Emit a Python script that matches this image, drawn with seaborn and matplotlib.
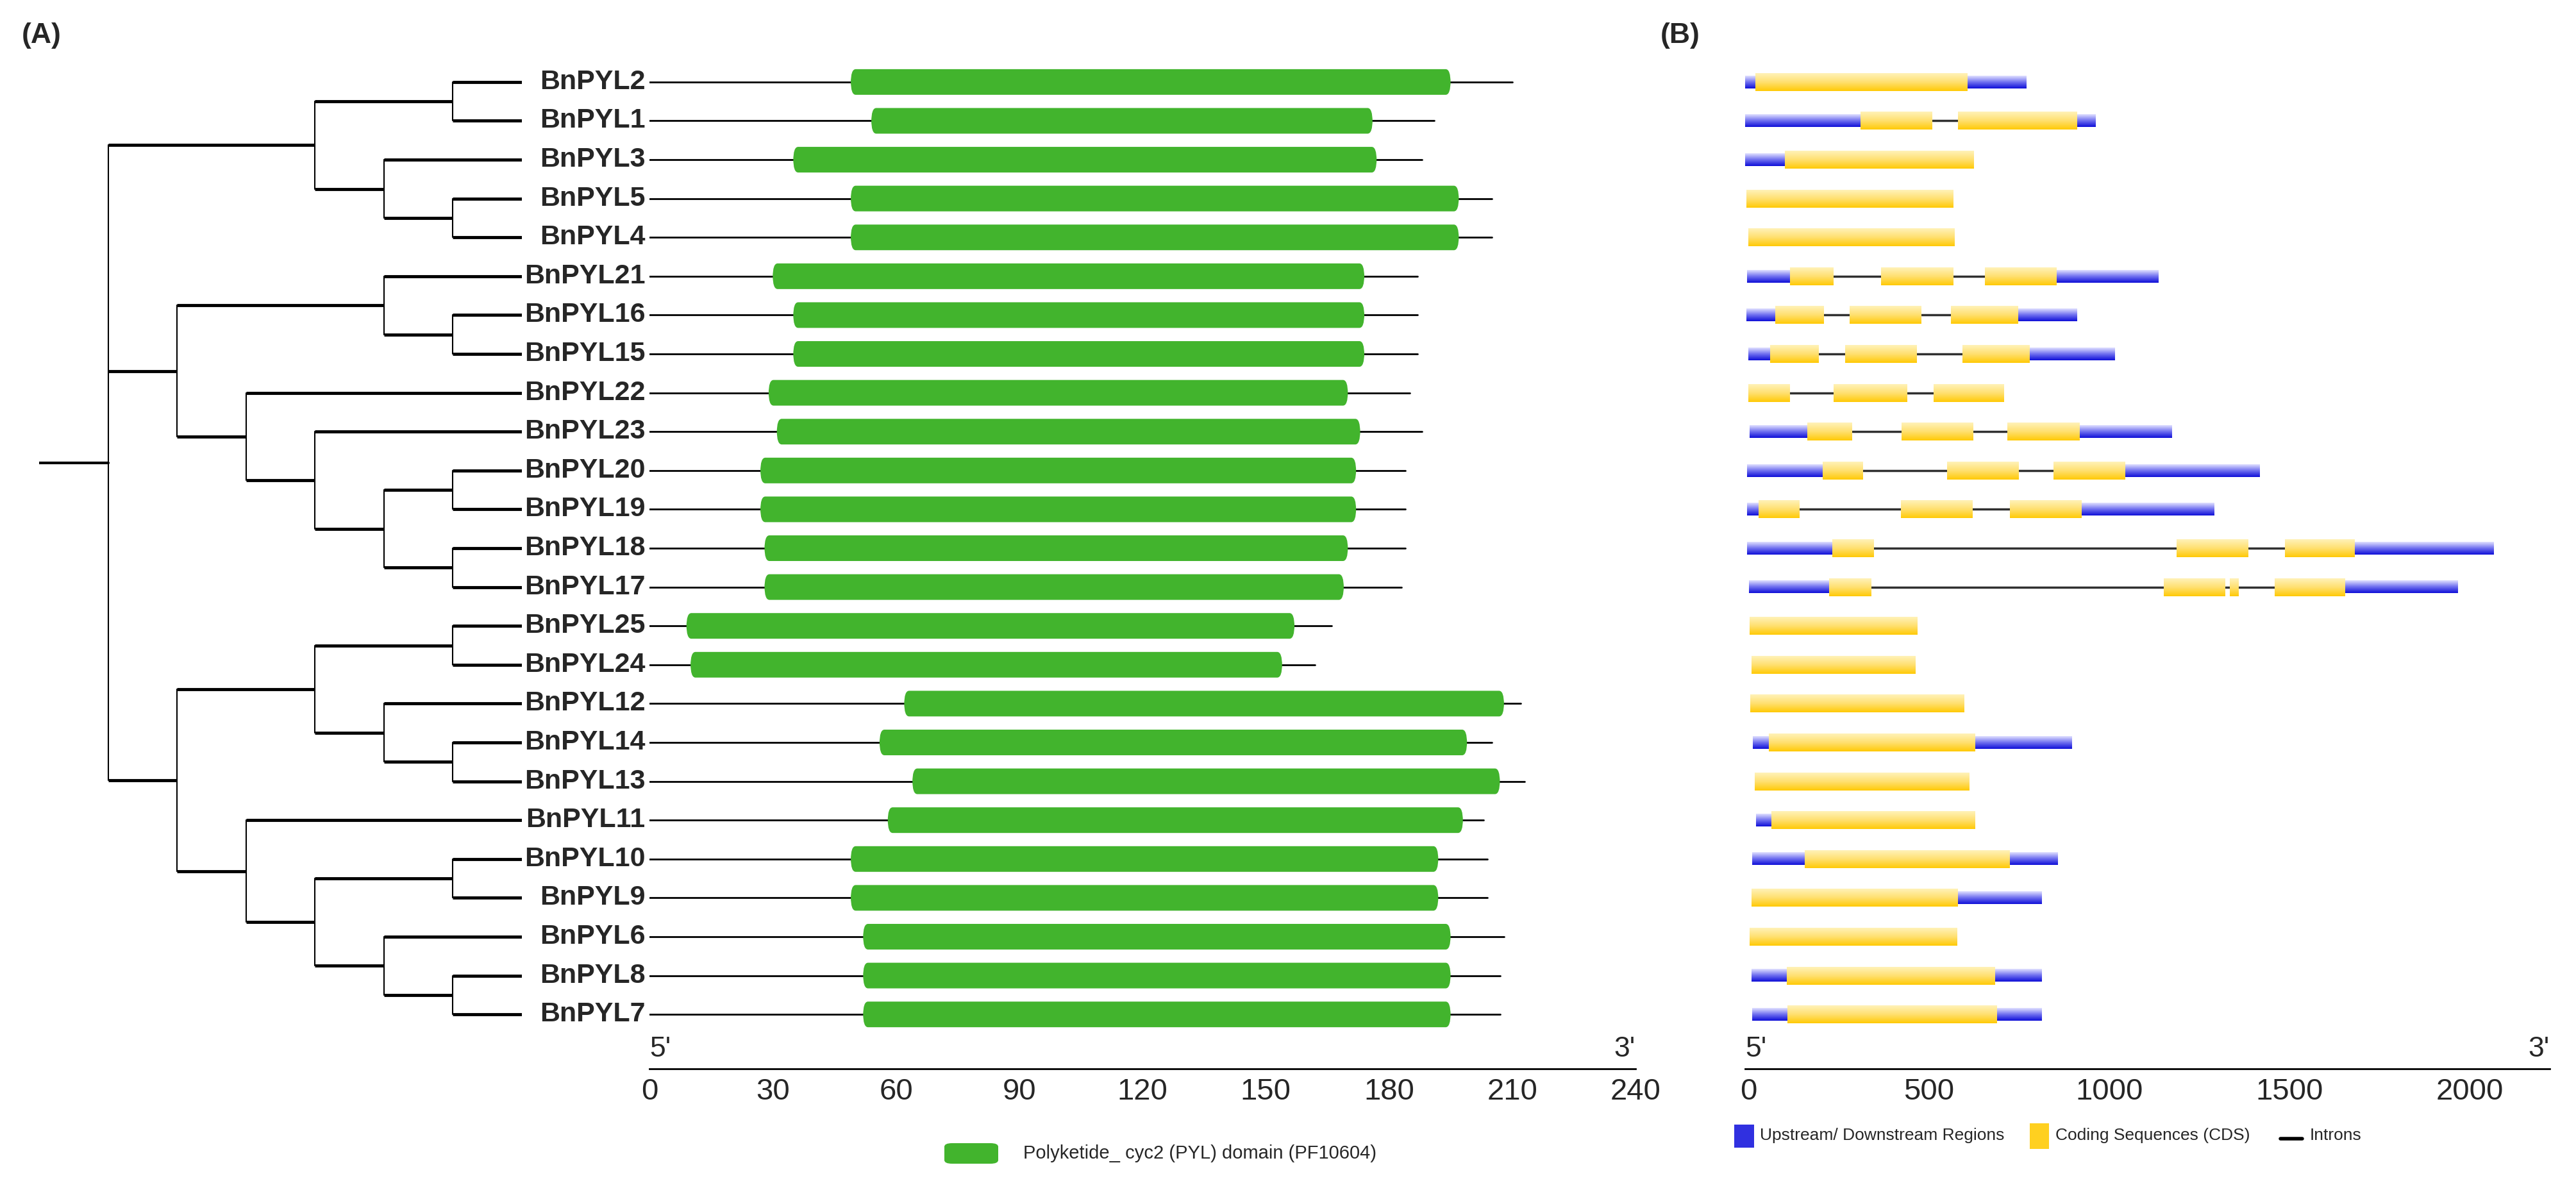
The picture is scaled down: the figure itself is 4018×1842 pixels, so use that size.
import numpy as np
import pandas as pd
import seaborn as sns
import matplotlib.pyplot as plt
from matplotlib.patches import Rectangle, FancyBboxPatch
from matplotlib.lines import Line2D

sns.set_theme(style='white')
plt.rcParams['font.family'] = ['Liberation Sans', 'DejaVu Sans']

# leaf order (top to bottom)
genes = ['BnPYL2', 'BnPYL1', 'BnPYL3', 'BnPYL5', 'BnPYL4', 'BnPYL21', 'BnPYL16', 'BnPYL15',
         'BnPYL22', 'BnPYL23', 'BnPYL20', 'BnPYL19', 'BnPYL18', 'BnPYL17', 'BnPYL25', 'BnPYL24',
         'BnPYL12', 'BnPYL14', 'BnPYL13', 'BnPYL11', 'BnPYL10', 'BnPYL9', 'BnPYL6', 'BnPYL8', 'BnPYL7']

# protein length (aa) and PYL domain position
prot_len = [210, 191, 188, 205, 205, 187, 187, 187, 185, 188, 184, 184, 184, 183, 166, 162,
            212, 205, 213, 203, 204, 204, 208, 207, 207]
dom_start = [49, 54, 35, 49, 49, 30, 35, 35, 29, 31, 27, 27, 28, 28, 9, 10,
             62, 56, 64, 58, 49, 49, 52, 52, 52]
dom_end = [195, 176, 177, 197, 197, 174, 174, 174, 170, 173, 172, 172, 170, 169, 157, 154,
           208, 199, 207, 198, 192, 192, 195, 195, 195]

# tree topology: (level, children); leaves are gene names at level 6
tree = (0, [
    (3, [(5, ['BnPYL2', 'BnPYL1']),
         (4, ['BnPYL3', (5, ['BnPYL5', 'BnPYL4'])])]),
    (1, [(4, ['BnPYL21', (5, ['BnPYL16', 'BnPYL15'])]),
         (2, ['BnPYL22',
              (3, ['BnPYL23',
                   (4, [(5, ['BnPYL20', 'BnPYL19']), (5, ['BnPYL18', 'BnPYL17'])])])])]),
    (1, [(3, [(5, ['BnPYL25', 'BnPYL24']),
              (4, ['BnPYL12', (5, ['BnPYL14', 'BnPYL13'])])]),
         (2, ['BnPYL11',
              (3, [(5, ['BnPYL10', 'BnPYL9']),
                   (4, ['BnPYL6', (5, ['BnPYL8', 'BnPYL7'])])])])]),
])

# gene structures (bp): upstream/downstream (UTR), CDS, introns fill the gaps
utr = {
    'BnPYL2': [(-24, 19), (606, 770)], 'BnPYL1': [(-17, 311), (911, 961)],
    'BnPYL3': [(-16, 102)], 'BnPYL5': [], 'BnPYL4': [],
    'BnPYL21': [(-3, 115), (854, 1135)], 'BnPYL16': [(-5, 74), (747, 912)],
    'BnPYL15': [(0, 60), (779, 1017)], 'BnPYL22': [],
    'BnPYL23': [(3, 163), (917, 1173)], 'BnPYL20': [(-3, 206), (1044, 1416)],
    'BnPYL19': [(-3, 28), (922, 1291)], 'BnPYL18': [(-3, 232), (1681, 2066)],
    'BnPYL17': [(2, 223), (1653, 1966)], 'BnPYL25': [], 'BnPYL24': [], 'BnPYL12': [],
    'BnPYL14': [(13, 57), (628, 898)], 'BnPYL13': [], 'BnPYL11': [(22, 63)],
    'BnPYL10': [(11, 157), (725, 857)], 'BnPYL9': [(579, 813)], 'BnPYL6': [],
    'BnPYL8': [(9, 107), (683, 813)], 'BnPYL7': [(11, 108), (688, 813)],
}
cds = {
    'BnPYL2': [(19, 606)], 'BnPYL1': [(311, 509), (581, 911)], 'BnPYL3': [(102, 626)],
    'BnPYL5': [(-5, 568)], 'BnPYL4': [(0, 571)],
    'BnPYL21': [(115, 235), (367, 567), (655, 854)],
    'BnPYL16': [(74, 209), (281, 479), (562, 747)],
    'BnPYL15': [(60, 195), (268, 466), (593, 779)],
    'BnPYL22': [(0, 115), (237, 440), (513, 707)],
    'BnPYL23': [(163, 287), (424, 623), (717, 917)],
    'BnPYL20': [(206, 317), (551, 750), (845, 1044)],
    'BnPYL19': [(28, 141), (422, 620), (724, 922)],
    'BnPYL18': [(232, 347), (1187, 1386), (1488, 1681)],
    'BnPYL17': [(223, 339), (1152, 1322), (1334, 1358), (1458, 1653)],
    'BnPYL25': [(3, 468)], 'BnPYL24': [(8, 462)], 'BnPYL12': [(5, 597)],
    'BnPYL14': [(57, 628)], 'BnPYL13': [(17, 611)], 'BnPYL11': [(63, 628)],
    'BnPYL10': [(157, 725)], 'BnPYL9': [(8, 579)], 'BnPYL6': [(3, 578)],
    'BnPYL8': [(107, 683)], 'BnPYL7': [(108, 688)],
}

W, H = 4018, 1842
fig = plt.figure(figsize=(W / 100, H / 100), dpi=100)
row = {g: i for i, g in enumerate(genes)}
ytop, ybot = 60, 1667
ylim = (25.4, -1.12)


def fbox(x0, x1):
    return [x0 / W, 1 - ybot / H, (x1 - x0) / W, (ybot - ytop) / H]


# ---------------- tree ----------------
axt = fig.add_axes(fbox(61, 814))
axt.set_xlim(-1, 6)
axt.set_ylim(*ylim)
axt.axis('off')


def draw(node):
    if isinstance(node, str):
        return 6, row[node]
    lev, kids = node
    ys = []
    for k in kids:
        kx, ky = draw(k)
        axt.plot([lev, kx], [ky, ky], color='black', lw=3.5, solid_capstyle='butt')
        ys.append(ky)
    axt.plot([lev, lev], [min(ys), max(ys)], color='black', lw=1.5)
    return lev, (ys[0] + ys[-1]) / 2


rx, ry = draw(tree)
axt.plot([-1, 0], [ry, ry], color='black', lw=3)

# ---------------- domains (A) ----------------
axa = fig.add_axes(fbox(1013, 2551))
dfa = pd.DataFrame({'gene': genes, 'len': prot_len, 'ds': dom_start, 'de': dom_end})
for _, r in dfa.iterrows():
    y = row[r['gene']]
    axa.plot([0, r['len']], [y, y], color='black', lw=2, zorder=1)
    axa.add_patch(FancyBboxPatch((r['ds'], y - 0.33), r['de'] - r['ds'], 0.66,
                                 boxstyle='round,pad=0,rounding_size=1.2', mutation_aspect=0.3,
                                 fc='#42B42D', ec='none', zorder=2))
    axa.text(-1, y, r['gene'], ha='right', va='center', fontsize=31, fontweight='bold', clip_on=False)
axa.set_xlim(0, 240)
axa.set_xticks(range(0, 241, 30))

# ---------------- gene structure (B) ----------------
axb = fig.add_axes(fbox(2722, 3977))
grad = np.linspace(0, 1, 50)[:, None]
ycmap = plt.matplotlib.colors.LinearSegmentedColormap.from_list('y', ['#FFF2B8', '#FFE070', '#FFCA08'])
bcmap = plt.matplotlib.colors.LinearSegmentedColormap.from_list('b', ['#E0E0FF', '#7070F0', '#1010D8'])
for g in genes:
    y = row[g]
    segs = sorted(utr[g] + cds[g])
    for (a0, a1), (b0, b1) in zip(segs[:-1], segs[1:]):
        if b0 - a1 > 5:
            axb.plot([a1, b0], [y, y], color='#303030', lw=2.5, zorder=1)
    for s0, s1 in utr[g]:
        axb.imshow(grad, cmap=bcmap, extent=[s0, s1, y + 0.16, y - 0.16], aspect='auto', zorder=2)
    for s0, s1 in cds[g]:
        axb.imshow(grad, cmap=ycmap, extent=[s0, s1, y + 0.23, y - 0.23], aspect='auto', zorder=3)
axb.set_xlim(-9, 2221)
axb.set_xticks(range(0, 2001, 500))

for ax in (axa, axb):
    sns.despine(ax=ax, left=True, top=True, right=True)
    ax.spines['bottom'].set_linewidth(2)
    ax.spines['bottom'].set_color('black')
    ax.set_yticks([])
    ax.set_ylim(*ylim)
    ax.tick_params(axis='x', length=0, pad=10, labelsize=34)
    ax.text(0, 0.006, "5'", transform=ax.transAxes, fontsize=32, ha='left', va='bottom')
    ax.text(1, 0.006, "3'", transform=ax.transAxes, fontsize=32, ha='right', va='bottom')

# panel labels
fig.text(34 / W, 1 - 55 / H, '(A)', fontsize=32, fontweight='bold', va='center')
fig.text(2590 / W, 1 - 55 / H, '(B)', fontsize=32, fontweight='bold', va='center')

# legends
fig.add_artist(FancyBboxPatch((1473 / W, 1 - 1815 / H), 84 / W, 32 / H, boxstyle='round,pad=0,rounding_size=0.003',
                              fc='#42B42D', ec='none', transform=fig.transFigure))
fig.text(1596 / W, 1 - 1799 / H, 'Polyketide_ cyc2 (PYL) domain (PF10604)', fontsize=21, va='center')
fig.add_artist(Rectangle((2705 / W, 1 - 1790 / H), 31 / W, 36 / H, fc='#3030E0', ec='none', transform=fig.transFigure))
fig.text(2745 / W, 1 - 1771 / H, 'Upstream/ Downstream Regions', fontsize=19, va='center')
fig.add_artist(Rectangle((3166 / W, 1 - 1792 / H), 30 / W, 40 / H, fc='#FFD020', ec='none', transform=fig.transFigure))
fig.text(3206 / W, 1 - 1771 / H, 'Coding Sequences (CDS)', fontsize=19, va='center')
fig.add_artist(Line2D([3557 / W, 3591 / W], [1 - 1776 / H] * 2, color='black', lw=4, transform=fig.transFigure))
fig.text(3603 / W, 1 - 1771 / H, 'Introns', fontsize=19, va='center')

fig.savefig('out.png', dpi=100, facecolor='white')
